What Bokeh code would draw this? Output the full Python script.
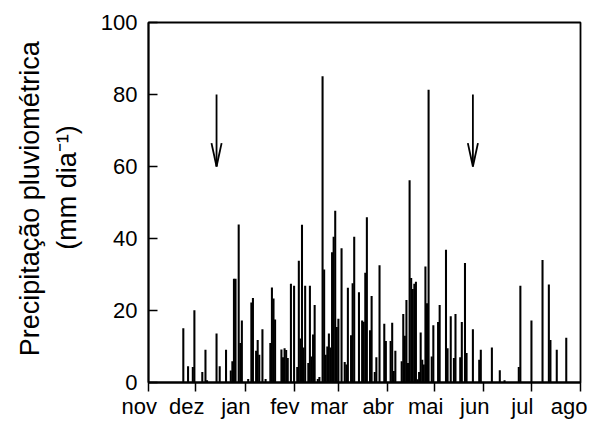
from bokeh.plotting import figure
from bokeh.models import FixedTicker, Range1d, LinearAxis
from bokeh.embed import file_html
from bokeh.resources import INLINE

# Day index counted from 1 November
days = [22, 25, 28, 29, 34, 36, 37, 43, 45, 49, 52, 53, 54, 55, 57, 58, 59, 63, 65, 66,
        68, 69, 70, 72, 74, 77, 78, 79, 80, 84, 85, 86, 87, 88, 90, 92, 94, 95, 96, 97,
        98, 99, 101, 102, 103, 104, 105, 107, 108, 110, 111, 112, 113, 114, 115, 116, 117, 118, 119, 120,
        122, 124, 125, 126, 128, 129, 130, 133, 135, 136, 137, 138, 140, 141, 143, 144, 146, 149, 150, 153,
        154, 155, 156, 160, 161, 162, 163, 164, 165, 166, 167, 168, 169, 170, 171, 172, 173, 174, 175, 176,
        177, 179, 180, 183, 184, 188, 189, 191, 193, 194, 197, 198, 200, 201, 205, 209, 210, 217, 222, 225,
        234, 235, 242, 249, 253, 254, 258, 264]
precip = [15.1, 4.5, 4.3, 20.1, 2.9, 9.1, 0.6, 13.6, 4.5, 9.1, 3.3, 5.9, 28.8, 28.8, 43.9, 11.0, 17.2, 1.0, 22.2, 23.5,
          8.8, 11.8, 7.7, 14.8, 1.0, 11.0, 26.4, 23.3, 17.5, 9.2, 7.0, 9.5, 9.0, 6.8, 27.4, 26.9, 4.3, 33.8, 12.2, 43.8,
          9.7, 26.9, 5.4, 26.9, 7.2, 13.3, 21.5, 1.0, 1.5, 85.1, 31.4, 7.7, 10.0, 13.6, 9.7, 36.2, 40.5, 47.7, 15.4, 17.7,
          37.3, 5.7, 5.0, 26.3, 13.1, 27.6, 40.5, 25.1, 17.2, 16.9, 30.5, 45.9, 14.5, 24.0, 2.9, 7.0, 32.6, 16.3, 11.5, 11.5,
          16.6, 3.2, 8.8, 5.9, 19.0, 13.0, 22.9, 5.4, 56.2, 29.0, 26.0, 27.4, 28.0, 0.9, 2.9, 13.9, 6.3, 5.0, 32.2, 22.0,
          81.3, 7.2, 15.9, 16.8, 21.5, 36.9, 9.5, 18.4, 6.8, 19.0, 7.0, 16.8, 33.2, 8.2, 14.8, 6.3, 9.1, 9.7, 3.4, 0.6,
          4.3, 26.9, 17.2, 34.0, 27.2, 11.8, 9.1, 12.4]

month_days = [0, 30, 61, 92, 120, 151, 181, 212, 242, 273]
month_labels = ["nov", "dez", "jan", "fev", "mar", "abr", "mai", "jun", "jul", "ago"]
y_ticks = [0, 20, 40, 60, 80, 100]

arrow_days = [43, 205]
arrow_top = 80
arrow_tip = 60

title_line1 = "Precipitação pluviométrica"
title_line2 = "(mm dia\u207b\u00b9)"

FONT = "Liberation Sans"
NB = "\u00a0"

p = figure(width=587, height=421, output_backend="svg", toolbar_location=None,
           x_range=Range1d(0, 273), y_range=Range1d(0, 100),
           min_border_left=148, min_border_right=7, min_border_top=22, min_border_bottom=37,
           background_fill_color="white", border_fill_color="white")

p.vbar(x=days, top=precip, bottom=0, width=1.3, fill_color="black", line_color=None)

# arrows
n = len(arrow_days)
p.segment(x0=arrow_days, y0=[arrow_top] * n, x1=arrow_days, y1=[arrow_tip] * n,
          line_color="black", line_width=1.8)
p.segment(x0=[d - 3.2 for d in arrow_days], y0=[arrow_tip + 6.5] * n, x1=arrow_days, y1=[arrow_tip] * n,
          line_color="black", line_width=1.8)
p.segment(x0=[d + 3.2 for d in arrow_days], y0=[arrow_tip + 6.5] * n, x1=arrow_days, y1=[arrow_tip] * n,
          line_color="black", line_width=1.8)

p.xgrid.visible = False
p.ygrid.visible = False
p.outline_line_color = "black"
p.outline_line_width = 1.8

xa = p.xaxis[0]
xa.ticker = FixedTicker(ticks=month_days)
xa.major_label_overrides = {d: (lab if lab == "ago" else lab + NB * 3)
                            for d, lab in zip(month_days, month_labels)}
xa.major_tick_in = 0
xa.major_tick_out = 9
xa.minor_tick_line_color = None
xa.major_label_text_font = FONT
xa.major_label_text_font_size = "22px"
xa.major_label_text_color = "black"
xa.major_label_standoff = 2
xa.axis_line_width = 1.8
xa.major_tick_line_width = 1.5

ya = p.yaxis[0]
ya.ticker = FixedTicker(ticks=y_ticks)
ya.major_tick_in = 9
ya.major_tick_out = 0
ya.minor_tick_line_color = None
ya.major_label_text_font = FONT
ya.major_label_text_font_size = "22px"
ya.major_label_text_color = "black"
ya.major_label_standoff = 11
ya.axis_line_width = 1.8
ya.major_tick_line_width = 1.5
ya.axis_label = NB * 4 + title_line2
ya.axis_label_text_font = FONT
ya.axis_label_text_font_size = "27px"
ya.axis_label_text_font_style = "normal"
ya.axis_label_text_color = "black"
ya.axis_label_standoff = 16

ya2 = LinearAxis(ticker=FixedTicker(ticks=[]), axis_line_color=None,
                 major_tick_line_color=None, minor_tick_line_color=None,
                 major_label_text_font_size="0px", major_label_standoff=0,
                 axis_label=NB + title_line1, axis_label_text_font=FONT,
                 axis_label_text_font_size="27px", axis_label_text_font_style="normal",
                 axis_label_text_color="black", axis_label_standoff=4)
p.add_layout(ya2, "left")

open("out.html", "w").write(file_html(p, INLINE))
